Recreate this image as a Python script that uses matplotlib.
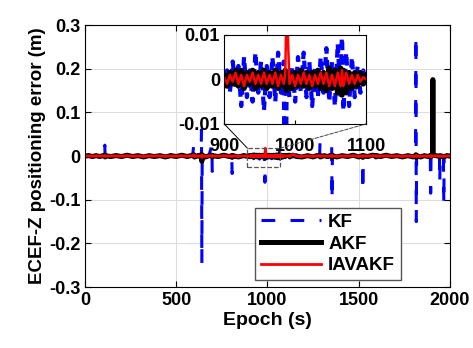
import matplotlib
matplotlib.use("Agg")
import matplotlib.pyplot as plt
from matplotlib.patches import Rectangle, ConnectionPatch

plt.rcParams["font.family"] = ["Liberation Sans", "DejaVu Sans"]
plt.rcParams["font.weight"] = "bold"
plt.rcParams["font.size"] = 13

# Datos fuera del zoom (epoch, KF, AKF, IAVAKF)
epoch_main = [0, 20, 40, 60, 80, 100, 108, 110, 112, 140, 170, 200, 230, 260, 290,
              320, 350, 380, 410, 440, 470, 500, 530, 560, 590, 597, 599, 620, 636,
              638, 640, 642, 660, 680, 695, 697, 699, 730, 760, 790, 804, 806, 808,
              810, 840, 870, 896]
kf_main = [0, 0.003, -0.003, 0.002, -0.002, 0.002, 0.025, -0.016, 0.002, -0.003, 0.003,
           -0.002, 0.003, -0.003, 0.002, -0.003, 0.003, -0.002, 0.002, -0.003, 0.003,
           -0.002, 0.003, -0.003, 0.004, 0.03, -0.004, 0.003, -0.004, 0.06, -0.245,
           0.01, -0.003, 0.003, 0.025, -0.035, 0.002, -0.003, 0.003, -0.003, 0.002,
           -0.04, -0.025, 0.002, -0.003, 0.003, -0.002]
akf_main = [0, 0.001, -0.001, 0.001, -0.001, 0.001, 0.002, -0.002, 0.001, -0.001, 0.001,
            -0.001, 0.002, -0.001, 0.001, -0.002, 0.001, -0.001, 0.001, -0.002, 0.001,
            -0.001, 0.002, -0.001, 0.002, 0.003, -0.002, 0.001, -0.003, 0.004, -0.012,
            0.002, -0.002, 0.001, 0.002, -0.002, 0.001, -0.001, 0.002, -0.001, 0.001,
            -0.003, -0.002, 0.001, -0.002, 0.001, -0.001]
iavakf_main = [0, 0.0005, -0.0005, 0.0005, 0, 0.0005, 0.001, -0.001, 0, 0, 0.0005,
               -0.0005, 0.001, -0.0005, 0.0005, -0.001, 0.0005, 0, 0.0005, -0.001, 0.0005,
               -0.0005, 0.001, -0.0005, 0.001, 0.003, -0.001, 0.0005, -0.001, 0.002, -0.003,
               0.001, -0.001, 0.0005, 0.001, -0.001, 0.0005, -0.0005, 0.001, -0.0005, 0,
               -0.001, -0.001, 0.0005, -0.001, 0.0005, 0]

# Tramo del zoom 900-1100
epoch_zoom = [900, 904, 908, 912, 916, 920, 924, 928, 932, 936, 940, 944, 948, 952, 956,
              960, 964, 968, 972, 976, 980, 984, 986, 988, 992, 996, 1000, 1004, 1008,
              1012, 1016, 1020, 1024, 1028, 1032, 1036, 1040, 1044, 1048, 1052, 1056,
              1060, 1064, 1066, 1068, 1072, 1076, 1080, 1084, 1088, 1092, 1096, 1100]
kf_zoom = [0.0, 0.002, -0.003, 0.004, -0.002, 0.003, -0.006, 0.005, -0.004, 0.002,
           -0.005, 0.006, -0.003, 0.004, -0.007, 0.003, -0.004, 0.005, -0.005, 0.006,
           -0.003, 0.004, -0.06, 0.002, -0.004, 0.003, -0.005, 0.005, -0.003, 0.006,
           -0.004, 0.004, -0.006, 0.003, -0.004, 0.005, -0.003, 0.007, -0.005, 0.004,
           -0.006, 0.008, -0.004, 0.011, -0.007, 0.006, -0.006, 0.005, -0.004, 0.003,
           -0.003, 0.002, -0.001]
akf_zoom = [0.001, -0.0015, 0.0015, -0.001, 0.002, -0.0015, 0.002, -0.002, 0.0015, -0.001,
            0.002, -0.002, 0.0015, -0.0015, 0.002, -0.002, 0.0015, -0.0015, 0.002, -0.002,
            0.0015, -0.0015, 0.002, -0.0025, 0.0015, -0.002, 0.0015, -0.0015, 0.002,
            -0.0015, 0.0015, -0.002, 0.0015, -0.0015, 0.002, -0.002, 0.0015, -0.0025,
            0.0025, -0.002, 0.002, -0.003, 0.0025, -0.0035, 0.002, -0.003, 0.0015,
            -0.002, 0.0015, -0.0015, 0.0015, -0.001, 0.001]
iavakf_zoom = [0.0005, -0.001, 0.001, -0.0005, 0.0015, -0.001, 0.001, -0.0015, 0.001,
               -0.0005, 0.0015, -0.001, 0.001, -0.001, 0.0015, -0.001, 0.001, -0.001,
               0.0015, -0.0015, 0.001, -0.001, 0.001, 0.018, -0.001, 0.001, -0.0015,
               0.001, -0.001, 0.0015, -0.001, 0.001, -0.0015, 0.001, -0.001, 0.0015,
               -0.001, 0.0015, -0.0015, 0.001, -0.0015, 0.0015, -0.0015, 0.002, -0.0015,
               0.0015, -0.001, 0.001, -0.001, 0.001, -0.0005, 0.0005, 0]

# Despues del zoom
epoch_end = [1104, 1120, 1123, 1126, 1140, 1160, 1190, 1220, 1250, 1270, 1286, 1288,
             1290, 1310, 1330, 1350, 1352, 1354, 1356, 1380, 1410, 1440, 1470, 1500,
             1520, 1523, 1526, 1550, 1575, 1593, 1595, 1597, 1620, 1650, 1680, 1710,
             1740, 1770, 1800, 1812, 1814, 1816, 1818, 1840, 1860, 1880, 1893, 1895,
             1897, 1905, 1907, 1909, 1925, 1943, 1945, 1947, 1965, 1967, 1969, 1985, 2000]
kf_end = [0.002, 0.003, -0.012, 0.002, -0.002, 0.003, -0.003, 0.002, -0.003, 0.003,
          0.002, 0.03, -0.004, 0.002, -0.003, 0.004, 0.03, -0.1, 0.002, -0.003, 0.003,
          -0.002, 0.003, -0.003, 0.002, -0.08, 0.002, -0.003, 0.003, 0.002, -0.02, 0.002,
          -0.003, 0.003, -0.002, 0.003, -0.003, 0.002, -0.003, 0.002, 0.275, -0.15, 0.002,
          -0.003, 0.003, -0.002, 0.002, -0.085, 0.002, -0.003, 0.002, -0.002, 0.003,
          -0.002, -0.06, 0.002, -0.002, -0.11, -0.002, 0.002, 0.0]
akf_end = [0.001, 0.002, -0.002, 0.001, 0.002, -0.001, -0.002, 0.001, -0.002, 0.001,
           0.001, 0.002, -0.002, 0.001, -0.001, 0.002, 0.002, -0.003, 0.001, -0.002,
           0.001, -0.001, 0.002, -0.002, 0.001, -0.003, 0.001, -0.001, 0.002, 0.001,
           -0.002, 0.001, -0.001, 0.002, -0.001, 0.001, -0.002, 0.001, -0.002, 0.001,
           0.003, -0.003, 0.001, -0.002, 0.001, -0.001, 0.001, -0.002, 0.001, 0.002,
           0.175, 0.002, 0.001, -0.001, -0.002, 0.001, -0.001, -0.002, -0.001, 0.001, 0]
iavakf_end = [0.0005, 0.001, -0.001, 0.0005, 0.004, -0.0005, -0.001, 0.0005, -0.001,
              0.0005, 0.001, 0.001, -0.001, 0.0005, -0.0005, 0.001, 0.001, -0.001, 0.0005,
              -0.001, 0.0005, -0.0005, 0.001, -0.001, 0.0005, -0.001, 0.0005, -0.0005,
              0.001, 0.0005, -0.001, 0.0005, -0.0005, 0.001, -0.0005, 0.0005, -0.001,
              0.0005, -0.001, 0.0005, 0.001, -0.001, 0.0005, -0.001, 0.0005, -0.0005,
              0.0005, -0.001, 0.0005, -0.001, 0.001, 0.0005, 0.0005, -0.0005, -0.001,
              0.0005, -0.0005, -0.001, -0.0005, 0.0005, 0]

epoch = epoch_main + epoch_zoom + epoch_end
kf = kf_main + kf_zoom + kf_end
akf = akf_main + akf_zoom + akf_end
iavakf = iavakf_main + iavakf_zoom + iavakf_end

xticks = [0, 500, 1000, 1500, 2000]
yticks = [-0.3, -0.2, -0.1, 0, 0.1, 0.2, 0.3]
ytick_labels = ["-0.3", "-0.2", "-0.1", "0", "0.1", "0.2", "0.3"]
zoom_xticks = [900, 1000, 1100]
zoom_yticks = [-0.01, 0, 0.01]
zoom_ytick_labels = ["-0.01", "0", "0.01"]

fig = plt.figure(figsize=(4.73, 3.48), dpi=100)
ax = fig.add_axes([0.180, 0.175, 0.771, 0.753])

ax.plot(epoch, kf, color="blue", linestyle=(0, (4.5, 5)), lw=2.2, label="KF")
ax.plot(epoch, akf, color="black", lw=3.6, label="AKF")
ax.plot(epoch, iavakf, color="red", lw=2.0, label="IAVAKF")

ax.set_xlim(0, 2000)
ax.set_ylim(-0.3, 0.3)
ax.set_xticks(xticks)
ax.set_yticks(yticks)
ax.set_yticklabels(ytick_labels)
ax.grid(True, color="#dddddd", lw=0.8)
ax.tick_params(direction="in", top=True, right=True, length=4)
ax.set_xlabel("Epoch (s)", fontweight="bold", fontsize=14, labelpad=2)
ax.set_ylabel("ECEF-Z positioning error (m)", fontweight="bold", fontsize=13.5, labelpad=2)

ax.legend(loc="lower left", bbox_to_anchor=(0.466, 0.027), handlelength=3.2,
          fancybox=False, edgecolor="#555555", framealpha=1, borderpad=0.3,
          labelspacing=0.25, handletextpad=0.4, borderaxespad=0, fontsize=13.5)

# rectangulo del zoom
ax.add_patch(Rectangle((890, -0.025), 180, 0.043, fill=False, ls="--",
                       ec="#555555", lw=0.9, zorder=5))

axin = fig.add_axes([0.474, 0.644, 0.300, 0.256])
axin.plot(epoch, kf, color="blue", linestyle=(0, (2, 1.5)), lw=3.0)
axin.plot(epoch, akf, color="black", lw=4.0)
axin.plot(epoch, iavakf, color="red", lw=1.8)
axin.set_xlim(900, 1100)
axin.set_ylim(-0.01, 0.01)
axin.set_xticks(zoom_xticks)
axin.set_yticks(zoom_yticks)
axin.set_yticklabels(zoom_ytick_labels)
axin.tick_params(direction="in", length=3, pad=3)
axin.tick_params(axis="x", pad=10)

c1 = ConnectionPatch(xyA=(890, 0.018), coordsA=ax.transData, xyB=(0, 0),
                     coordsB=axin.transAxes, color="black", lw=0.7)
c2 = ConnectionPatch(xyA=(1070, 0.018), coordsA=ax.transData, xyB=(1, 0),
                     coordsB=axin.transAxes, color="#444444", lw=0.7, ls="--")
fig.add_artist(c1)
fig.add_artist(c2)

fig.savefig("out.png", dpi=100)
